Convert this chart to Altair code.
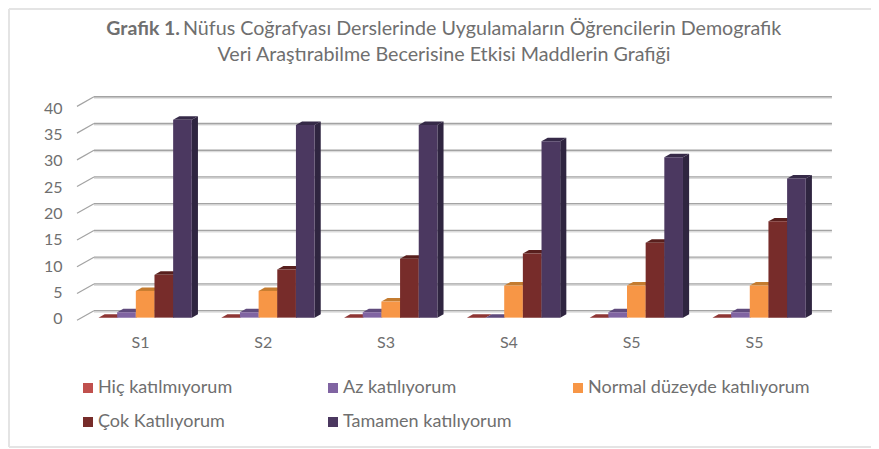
import altair as alt
import pandas as pd

GROUPS = ["S1", "S2", "S3", "S4", "S5", "S5"]
SERIES = ["Hiç katılmıyorum", "Az katılıyorum", "Normal düzeyde katılıyorum", "Çok Katılıyorum", "Tamamen katılıyorum"]
HIC = [0, 0, 0, 0, 0, 0]
AZ = [1, 1, 1, 0, 1, 1]
NORMAL = [5, 5, 3, 6, 6, 6]
COK = [8, 9, 11, 12, 14, 18]
TAMAMEN = [37, 36, 36, 33, 30, 26]
VALUES = [HIC, AZ, NORMAL, COK, TAMAMEN]
FRONT = ["#c0504d", "#8064a2", "#f79646", "#772c2a", "#4b3860"]
TOP = ["#8e3533", "#5f4a7c", "#c47c30", "#581f1d", "#362a48"]
SIDE = ["#7d2e2c", "#4f3d68", "#a8682a", "#4c1b1a", "#2f2540"]
TICKS = [0, 5, 10, 15, 20, 25, 30, 35, 40]

TXT = "#6f6f6f"
FONT = "Lato"
BAR_W, DX, DY, START = 0.152, 0.05, 0.65, -0.338
X = alt.Scale(domain=[-0.513, 5.66], nice=False, zero=False)
Y = alt.Scale(domain=[-2.5, 42], nice=False, zero=False)
W, H = 758, 238
XAXIS = alt.Axis(
    values=list(range(6)), domain=False, ticks=False, grid=False, title=None,
    labelExpr="['S1','S2','S3','S4','S5','S5'][datum.value]", labelFont=FONT,
    labelFontSize=16, labelColor=TXT, labelPadding=3, labelBound=False, labelOverlap=False)


def xe(f="x"):
    return alt.X(f"{f}:Q", scale=X, axis=XAXIS)


def ye(f="y"):
    return alt.Y(f"{f}:Q", scale=Y, axis=None)


# Back wall gridlines and the slanted left ticks
grid = pd.DataFrame({"v": TICKS})
grid["y"] = grid.v + 1.3
grid["yf"] = grid.v - 0.5
grid["x0"], grid["x1"], grid["xf"] = -0.375, 5.635, -0.513
shadow = alt.Chart(grid).mark_rule(color="#dcdcdc", strokeWidth=1.5, yOffset=1.3).encode(
    x=xe("x0"), x2="x1:Q", y=ye())
gridl = alt.Chart(grid).mark_rule(color="#a3a3a3", strokeWidth=1.3).encode(
    x=xe("x0"), x2="x1:Q", y=ye())
slant = alt.Chart(grid).mark_rule(color="#a3a3a3", strokeWidth=1.2).encode(
    x=xe("xf"), x2="x0:Q", y=ye("yf"), y2="y:Q")

layers = [shadow, gridl, slant]
for s, name in enumerate(SERIES):
    front, side, top = [], [], []
    for g, v in enumerate(VALUES[s]):
        l = g + START + s * BAR_W
        r = l + BAR_W
        front.append({"g": g, "series": name, "x": l, "x2": r, "y": v, "y2": 0})
        side += [{"g": g, "x": r, "y": 0, "y2": v}, {"g": g, "x": r + DX, "y": DY, "y2": v + DY}]
        top += [{"g": g, "x": l, "y": v, "y2": v}, {"g": g, "x": l + DX, "y": v, "y2": v + DY},
                {"g": g, "x": r, "y": v, "y2": v + DY}, {"g": g, "x": r + DX, "y": v + DY, "y2": v + DY}]
    layers.append(alt.Chart(pd.DataFrame(side)).mark_area(color=SIDE[s]).encode(
        x=xe(), y=ye(), y2="y2:Q", detail="g:N"))
    layers.append(alt.Chart(pd.DataFrame(top)).mark_area(color=TOP[s]).encode(
        x=xe(), y=ye(), y2="y2:Q", detail="g:N"))
    layers.append(alt.Chart(pd.DataFrame(front)).mark_rect().encode(
        x=xe(), x2="x2:Q", y=ye(), y2="y2:Q",
        color=alt.Color("series:N", scale=alt.Scale(domain=SERIES, range=FRONT),
                        legend=alt.Legend(
                            title=None, orient="none", legendX=2, legendY=286, columns=3,
                            direction="horizontal",
                            symbolType="square", symbolSize=100, symbolStrokeWidth=0,
                            labelFont=FONT, labelFontSize=18, labelColor=TXT, labelLimit=300,
                            rowPadding=16, columnPadding=4, gridAlign="all", labelOffset=1,
                            symbolOffset=0, padding=0))))

# Value labels of the front wall edge
yaxis = alt.Chart(grid).mark_point(opacity=0).encode(
    y=alt.Y("v:Q", scale=alt.Scale(domain=[-2.34, 42.91], nice=False, zero=False),
            axis=alt.Axis(values=TICKS, domain=False, ticks=False, grid=False, title=None,
                          labelFont=FONT, labelFontSize=16, labelColor=TXT, labelPadding=15)))

# Title pieces (bold lead-in plus regular text)
t1 = alt.Chart(pd.DataFrame({"t": ["Grafik 1."]})).mark_text(
    font=FONT, fontSize=19.5, fontWeight="bold", color=TXT, align="right", baseline="middle"
).encode(text="t:N", x=alt.value(103), y=alt.value(-64))
t2 = alt.Chart(pd.DataFrame({"t": ["Nüfus Coğrafyası Derslerinde Uygulamaların Öğrencilerin Demografik"]})).mark_text(
    font=FONT, fontSize=19.7, color=TXT, align="left", baseline="middle"
).encode(text="t:N", x=alt.value(106), y=alt.value(-64))
t3 = alt.Chart(pd.DataFrame({"t": ["Veri Araştırabilme Becerisine Etkisi Maddlerin Grafiği"]})).mark_text(
    font=FONT, fontSize=19.7, color=TXT, align="center", baseline="middle"
).encode(text="t:N", x=alt.value(367), y=alt.value(-38))

# Light frame of the figure
fr = pd.DataFrame({"k": [0]})
frame_left = alt.Chart(fr).mark_rule(color="#e4e4e4", strokeWidth=2).encode(
    x=alt.value(-68), y=alt.value(-84), y2=alt.value(354))
frame_bottom = alt.Chart(fr).mark_rule(color="#e4e4e4", strokeWidth=2).encode(
    x=alt.value(-68), x2=alt.value(794), y=alt.value(354))
frame_top = alt.Chart(fr).mark_rule(color="#e4e4e4", strokeWidth=2).encode(
    x=alt.value(-68), x2=alt.value(794), y=alt.value(-84))

base = alt.layer(frame_left, frame_bottom, frame_top, *layers, t1, t2, t3)
chart = alt.layer(yaxis, base).resolve_scale(y="independent").properties(
    width=W, height=H,
    padding={"left": 69, "top": 85, "right": 36, "bottom": 117},
    autosize=alt.AutoSizeParams(type="none"),
    background="white",
).configure_view(stroke=None)

chart.save("out.html", embed_options={"renderer": "svg", "actions": False})
